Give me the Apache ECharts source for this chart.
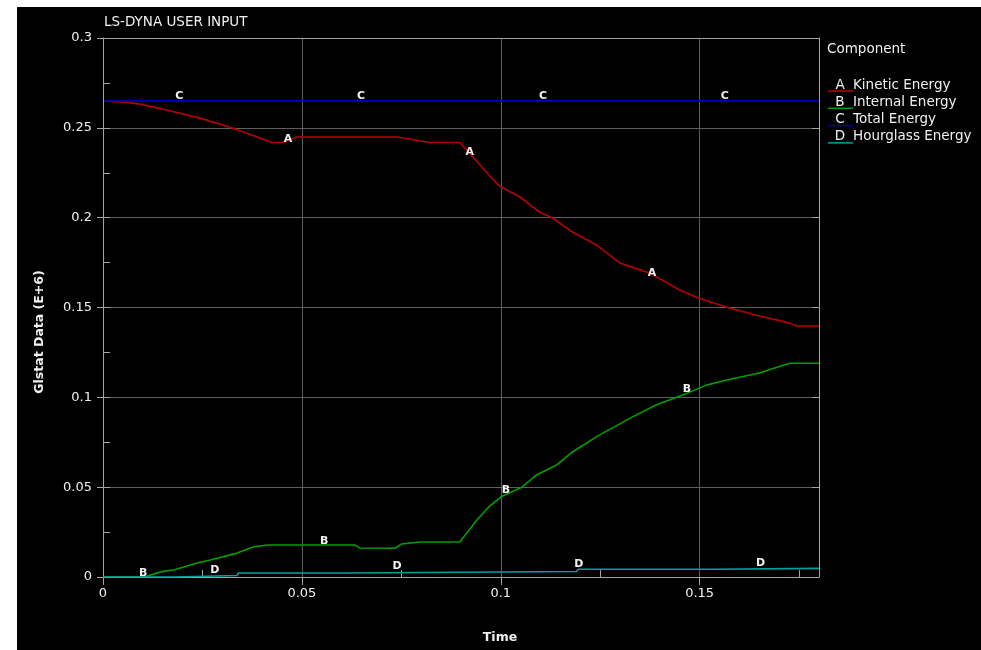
<!DOCTYPE html>
<html>
<head>
<meta charset="utf-8">
<script src="https://cdn.jsdelivr.net/npm/echarts@6/dist/echarts.min.js"></script>
<style>
html,body{margin:0;padding:0;background:#ffffff;width:981px;height:650px;overflow:hidden;}
#chart{position:absolute;left:17px;top:7px;width:964px;height:643px;background:#000000;}
</style>
</head>
<body>
<div id="chart"></div>
<script>
// ---- data (time, value in E+6) ----
const titleText = 'LS-DYNA USER INPUT';
const xAxisName = 'Time';
const yAxisName = 'Glstat Data (E+6)';
const legendTitle = 'Component';
const seriesNames = ['Kinetic Energy', 'Internal Energy', 'Total Energy', 'Hourglass Energy'];
const seriesLetters = ['A', 'B', 'C', 'D'];
const seriesColors = ['#b80000', '#00a000', '#0000a8', '#00a0a0'];
const xTickValues = [0, 0.05, 0.1, 0.15];
const xMinorTickValues = [0.025, 0.075, 0.125, 0.175];

const kineticEnergy = [
  [0, 0.265], [0.0055, 0.2642], [0.0093, 0.2632], [0.016, 0.2599], [0.0244, 0.2554],
  [0.0327, 0.2498], [0.0425, 0.2418], [0.045, 0.2418], [0.0487, 0.2449], [0.0739, 0.2449],
  [0.0817, 0.2420], [0.0897, 0.2418], [0.099, 0.219], [0.1005, 0.2165], [0.1048, 0.2115],
  [0.1098, 0.2030], [0.113, 0.1998], [0.118, 0.192], [0.124, 0.1848], [0.130, 0.1747],
  [0.1375, 0.169], [0.145, 0.1597], [0.150, 0.155], [0.1575, 0.1497], [0.164, 0.1458],
  [0.1726, 0.1413], [0.1744, 0.1397], [0.18, 0.1397]
];
const internalEnergy = [
  [0, 0], [0.0105, 0], [0.0118, 0.001], [0.0148, 0.003], [0.018, 0.004], [0.0236, 0.0078],
  [0.027, 0.0095], [0.0337, 0.0133], [0.0377, 0.0167], [0.0412, 0.0178], [0.0633, 0.0178],
  [0.0646, 0.0161], [0.0734, 0.016], [0.0751, 0.0184], [0.0797, 0.0195], [0.0897, 0.0195],
  [0.0902, 0.0206], [0.094, 0.0317], [0.0972, 0.0395], [0.1003, 0.045], [0.1053, 0.050],
  [0.109, 0.0568], [0.114, 0.0623], [0.118, 0.0696], [0.124, 0.078], [0.133, 0.089],
  [0.139, 0.0957], [0.1457, 0.1013], [0.1517, 0.1068], [0.1568, 0.1096], [0.165, 0.1135],
  [0.1726, 0.119], [0.18, 0.119]
];
const totalEnergy = [
  [0, 0.265], [0.05, 0.265], [0.1, 0.265], [0.15, 0.265], [0.18, 0.265]
];
const hourglassEnergy = [
  [0, 0], [0.018, 0], [0.0185, 0.0008], [0.0337, 0.0008], [0.034, 0.0022], [0.0613, 0.0022],
  [0.0616, 0.0031], [0.119, 0.0031], [0.1195, 0.0043], [0.1538, 0.0043], [0.1541, 0.0048],
  [0.18, 0.0048]
];
const labelTimesA = [0.0465, 0.0922, 0.1380];
const labelTimesB = [0.0101, 0.0556, 0.1013, 0.1468];
const labelTimesC = [0.0192, 0.0649, 0.1106, 0.1563];
const labelTimesD = [0.0281, 0.0739, 0.1196, 0.1653];

// ---- build ----
const FONT = "'DejaVu Sans', sans-serif";
const TEXT = '#f0f0f0';
const FRAME = '#a4a4a4';
const GRIDC = '#5e5e5e';

function interp(data, t) {
  for (let i = 1; i < data.length; i++) {
    if (t <= data[i][0]) {
      const a = data[i - 1], b = data[i];
      const f = (t - a[0]) / (b[0] - a[0] || 1);
      return a[1] + f * (b[1] - a[1]);
    }
  }
  return data[data.length - 1][1];
}

const allData = [kineticEnergy, internalEnergy, totalEnergy, hourglassEnergy];
const allLabelTimes = [labelTimesA, labelTimesB, labelTimesC, labelTimesD];
const labelOffsets = [[0, -1], [0, -4], [0, -5], [0, -5]];

const series = allData.map((d, i) => ({
  name: seriesNames[i],
  type: 'line',
  data: d,
  xAxisIndex: 0,
  yAxisIndex: 0,
  showSymbol: false,
  symbol: 'none',
  lineStyle: { color: seriesColors[i], width: 1.6 },
  itemStyle: { color: seriesColors[i] },
  z: 2 + i,
  silent: true,
  markPoint: {
    symbol: 'circle',
    symbolSize: 1,
    silent: true,
    itemStyle: { color: 'rgba(0,0,0,0)' },
    label: {
      show: true,
      position: 'inside',
      offset: labelOffsets[i],
      formatter: seriesLetters[i],
      color: '#f2f2f2',
      fontFamily: FONT,
      fontWeight: 'bold',
      fontSize: 11
    },
    data: allLabelTimes[i].map(t => ({ coord: [t, interp(d, t)], value: seriesLetters[i] }))
  }
}));

const hidden = { show: false };
const xBase = { type: 'value', min: 0, max: 0.18 };
const yBase = { type: 'value', min: 0, max: 0.3 };

const option = {
  backgroundColor: '#000000',
  animation: false,
  grid: { left: 86, top: 31, right: 162, bottom: 73, show: false, containLabel: false },
  xAxis: [
    Object.assign({}, xBase, {
      position: 'bottom', interval: 0.05, z: 5,
      axisLine: { show: true, onZero: false, lineStyle: { color: FRAME, width: 1 } },
      axisTick: { show: true, inside: false, length: 8, customValues: xTickValues, lineStyle: { color: FRAME } },
      axisLabel: { show: true, margin: 10, customValues: xTickValues,
        color: TEXT, fontFamily: FONT, fontSize: 13,
        formatter: v => String(Math.round(v * 1000) / 1000) },
      splitLine: hidden
    }),
    Object.assign({}, xBase, {
      position: 'bottom', interval: 0.025, z: 5,
      axisLine: { show: false, onZero: false },
      axisTick: { show: true, inside: true, length: 7, customValues: xMinorTickValues, lineStyle: { color: FRAME } },
      axisLabel: hidden, splitLine: hidden
    }),
    Object.assign({}, xBase, {
      position: 'bottom', interval: 0.05, z: 1,
      axisLine: { show: false, onZero: false }, axisTick: hidden, axisLabel: hidden,
      splitLine: { show: true, showMinLine: false, showMaxLine: false, lineStyle: { color: GRIDC, width: 1 } }
    }),
    Object.assign({}, xBase, {
      position: 'top', interval: 0.05, z: 5,
      axisLine: { show: true, onZero: false, lineStyle: { color: FRAME, width: 1 } },
      axisTick: hidden, axisLabel: hidden, splitLine: hidden
    })
  ],
  yAxis: [
    Object.assign({}, yBase, {
      position: 'left', interval: 0.05, z: 5,
      axisLine: { show: true, onZero: false, lineStyle: { color: FRAME, width: 1 } },
      axisTick: { show: true, inside: false, length: 6, lineStyle: { color: FRAME } },
      axisLabel: { show: true, margin: 11, color: TEXT, fontFamily: FONT, fontSize: 13,
        formatter: v => String(Math.round(v * 1000) / 1000) },
      splitLine: hidden
    }),
    Object.assign({}, yBase, {
      position: 'left', interval: 0.025, z: 5,
      axisLine: { show: false, onZero: false },
      axisTick: { show: true, inside: true, length: 7, lineStyle: { color: FRAME } },
      axisLabel: hidden, splitLine: hidden
    }),
    Object.assign({}, yBase, {
      position: 'right', interval: 0.05, z: 5,
      axisLine: { show: true, onZero: false, lineStyle: { color: FRAME, width: 1 } },
      axisTick: { show: true, inside: true, length: 7, lineStyle: { color: FRAME } },
      axisLabel: hidden, splitLine: hidden
    }),
    Object.assign({}, yBase, {
      position: 'left', interval: 0.05, z: 1,
      axisLine: { show: false, onZero: false }, axisTick: hidden, axisLabel: hidden,
      splitLine: { show: true, showMinLine: false, showMaxLine: false, lineStyle: { color: GRIDC, width: 1 } }
    })
  ],
  series: series,
  graphic: (function () {
    const g = [];
    g.push({ type: 'text', x: 87, y: 15, silent: true,
      style: { text: titleText, fill: TEXT, font: '13.5px ' + FONT, align: 'left', verticalAlign: 'middle' } });
    g.push({ type: 'text', x: 23, y: 325, rotation: Math.PI / 2, silent: true,
      style: { text: yAxisName, fill: TEXT, font: 'bold 12.5px ' + FONT, align: 'center', verticalAlign: 'middle' } });
    g.push({ type: 'text', x: 483, y: 631, silent: true,
      style: { text: xAxisName, fill: TEXT, font: 'bold 12.5px ' + FONT, align: 'center', verticalAlign: 'middle' } });
    g.push({ type: 'text', x: 810, y: 42, silent: true,
      style: { text: legendTitle, fill: TEXT, font: '13.5px ' + FONT, align: 'left', verticalAlign: 'middle' } });
    seriesNames.forEach((name, i) => {
      const cy = 78 + 17.3 * i;
      g.push({ type: 'line', silent: true,
        shape: { x1: 811, y1: cy + 6, x2: 836, y2: cy + 6 },
        style: { stroke: seriesColors[i], lineWidth: 1.5 } });
      g.push({ type: 'text', x: 823, y: cy, silent: true,
        style: { text: seriesLetters[i], fill: TEXT, font: '13.5px ' + FONT, align: 'center', verticalAlign: 'middle' } });
      g.push({ type: 'text', x: 836, y: cy, silent: true,
        style: { text: name, fill: TEXT, font: '13.5px ' + FONT, align: 'left', verticalAlign: 'middle' } });
    });
    return g;
  })()
};

const chart = echarts.init(document.getElementById('chart'), null, { renderer: 'canvas' });
chart.setOption(option);
</script>
</body>
</html>
